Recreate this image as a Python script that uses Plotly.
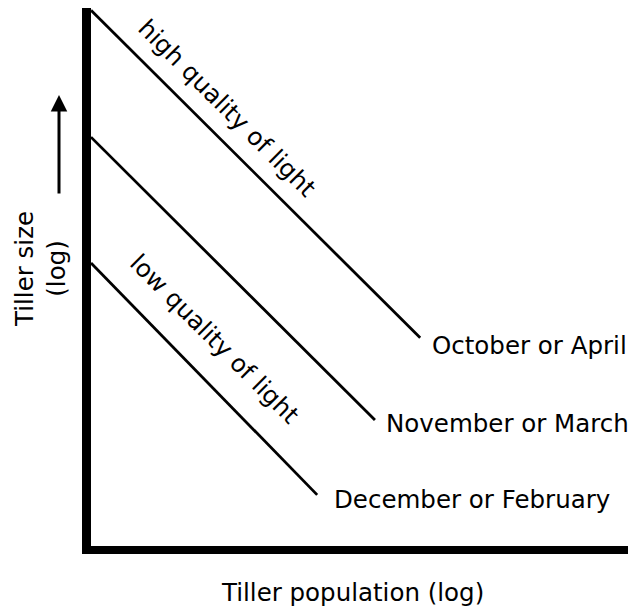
import plotly.graph_objects as go

# ---- data (log units; axes span 0..10) ----
series_names = ["October or April", "November or March", "December or February"]
oct_x = [0.0, 6.04]
oct_y = [9.96, 3.87]
nov_x = [0.0, 5.21]
nov_y = [7.60, 2.34]
dec_x = [0.0, 4.15]
dec_y = [5.26, 0.95]

quality_labels = ["high quality of light", "low quality of light"]
quality_x = [2.51, 2.26]
quality_y = [8.14, 3.85]

x_title = "Tiller population (log)"
y_title = "Tiller size<br>(log)"

# the page body has an 8px margin; the figure is sized to fill the rest
OFF = 8
W, H = 636 - OFF, 615 - OFF
ML, MR, MT, MB = 91 - OFF, 0, 8 - OFF, 69
PW, PH = W - ML - MR, H - MT - MB


def px_x(p):  # page pixel -> paper
    return (p - OFF - ML) / PW


def px_y(p):
    return (H - MB - (p - OFF)) / PH


FONT = dict(family="DejaVu Sans", size=24.5, color="black")

fig = go.Figure()
for xs, ys in [(oct_x, oct_y), (nov_x, nov_y), (dec_x, dec_y)]:
    fig.add_trace(go.Scatter(x=xs, y=ys, mode="lines",
                             line=dict(color="black", width=2.8),
                             hoverinfo="skip", showlegend=False))

annotations = []
shifts = [(10, -8), (9, -3), (15, -5)]
for name, xs, ys, (dx, dy) in zip(series_names, [oct_x, nov_x, dec_x],
                                   [oct_y, nov_y, dec_y], shifts):
    annotations.append(dict(x=xs[-1], y=ys[-1], xref="x", yref="y",
                            text=name, showarrow=False, xanchor="left",
                            yanchor="middle", xshift=dx, yshift=dy, font=FONT))

for t, x, y in zip(quality_labels, quality_x, quality_y):
    annotations.append(dict(x=x, y=y, xref="x", yref="y", text=t,
                            showarrow=False, textangle=45, xanchor="center",
                            yanchor="middle", font=FONT))

# axis titles
annotations.append(dict(x=px_x(352), y=px_y(593), xref="paper", yref="paper",
                        text=x_title, showarrow=False, xanchor="center",
                        yanchor="middle", font=FONT))
annotations.append(dict(x=px_x(40), y=px_y(269), xref="paper", yref="paper",
                        text=y_title, showarrow=False, textangle=-90,
                        xanchor="center", yanchor="middle", font=FONT))
# upward arrow next to y title
annotations.append(dict(x=px_x(59), y=px_y(95), xref="paper", yref="paper",
                        ax=0, ay=100, axref="pixel", ayref="pixel",
                        text="", showarrow=True, arrowhead=2, arrowsize=1.1,
                        arrowwidth=3, arrowcolor="black", standoff=0))

fig.update_layout(
    width=W, height=H, autosize=False,
    margin=dict(l=ML, r=MR, t=MT, b=MB, pad=0),
    paper_bgcolor="white", plot_bgcolor="white",
    showlegend=False,
    annotations=annotations,
    xaxis=dict(range=[0, 10], showline=True, linewidth=8, linecolor="black",
               showgrid=False, zeroline=False, ticks="", showticklabels=False,
               fixedrange=True),
    yaxis=dict(range=[0, 10], showline=True, linewidth=9, linecolor="black",
               showgrid=False, zeroline=False, ticks="", showticklabels=False,
               fixedrange=True),
)

fig.write_html("out.html")
